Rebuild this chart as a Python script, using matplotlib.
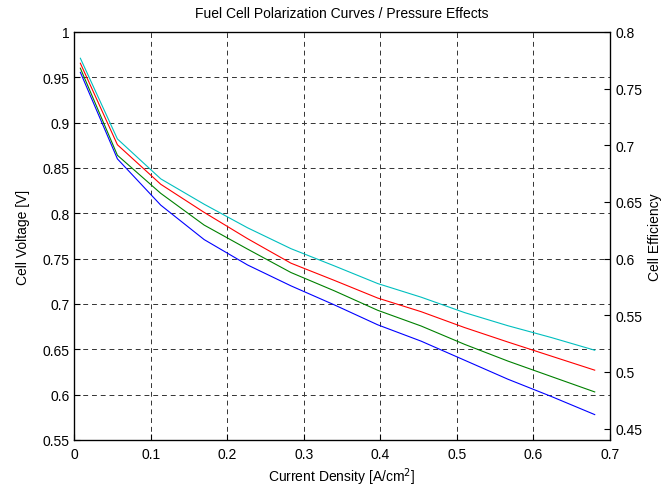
import matplotlib.pyplot as plt

plt.rcParams['font.family'] = ['Liberation Sans', 'DejaVu Sans']

# current density points [A/cm^2]
j = [0.0083, 0.0567, 0.1133, 0.17, 0.2267, 0.2833, 0.34, 0.3967, 0.4533, 0.51, 0.5667, 0.6233, 0.68]

# cell voltage for the four pressure cases
v_blue = [0.9555, 0.860, 0.809, 0.771, 0.743, 0.720, 0.699, 0.677, 0.659, 0.638, 0.617, 0.598, 0.578]
v_green = [0.960, 0.864, 0.822, 0.787, 0.7605, 0.7347, 0.7145, 0.693, 0.6757, 0.6555, 0.637, 0.620, 0.603]
v_red = [0.9655, 0.8756, 0.832, 0.801, 0.772, 0.745, 0.726, 0.7065, 0.6915, 0.674, 0.658, 0.6425, 0.627]
v_cyan = [0.971, 0.882, 0.838, 0.810, 0.784, 0.761, 0.742, 0.7225, 0.7075, 0.6905, 0.676, 0.663, 0.649]

xticks = [0, 0.1, 0.2, 0.3, 0.4, 0.5, 0.6, 0.7]
yticks_left = [0.55, 0.6, 0.65, 0.7, 0.75, 0.8, 0.85, 0.9, 0.95, 1]
yticks_right = [0.45, 0.5, 0.55, 0.6, 0.65, 0.7, 0.75, 0.8]

fs = 10

fig = plt.figure(figsize=(6.63, 4.89), dpi=100)
ax = fig.add_axes([0.1116, 0.0982, 0.8085, 0.8344])

ax.plot(j, v_blue, color='#0000ff', lw=0.8)
ax.plot(j, v_green, color='#008000', lw=0.8)
ax.plot(j, v_red, color='#ff0000', lw=0.8)
ax.plot(j, v_cyan, color='#00bfbf', lw=0.8)

ax.set_xlim(0, 0.7)
ax.set_ylim(0.55, 1)
ax.set_xticks(xticks)
ax.set_xticklabels(['0' if t == 0 else '%g' % t for t in xticks])
ax.set_yticks(yticks_left)
ax.set_yticklabels(['%g' % t for t in yticks_left])
ax.grid(True, color='0.2', linestyle=(0, (5, 4)), linewidth=0.7)
ax.tick_params(direction='in', length=4, labelsize=fs, width=0.8)
ax.tick_params(axis='y', pad=3)
ax.tick_params(axis='x', pad=5)
for s in ax.spines.values():
    s.set_linewidth(0.9)

ax.set_xlabel('Current Density [A/cm$^2$]', fontsize=fs, labelpad=3)
ax.set_ylabel('Cell Voltage [V]', fontsize=fs, labelpad=9)
ax.set_title('Fuel Cell Polarization Curves / Pressure Effects', fontsize=fs, pad=11)

# right axis: efficiency scale
ax2 = ax.twinx()
ax2.set_ylim(0.44, 0.8)
ax2.set_yticks(yticks_right)
ax2.set_yticklabels(['%g' % t for t in yticks_right])
ax2.tick_params(direction='in', length=4, labelsize=fs, width=0.8, pad=4)
ax2.set_ylabel('Cell Efficiency', fontsize=fs)
ax2.yaxis.set_label_coords(1.07, 0.5)

fig.savefig('out.png', dpi=100)
